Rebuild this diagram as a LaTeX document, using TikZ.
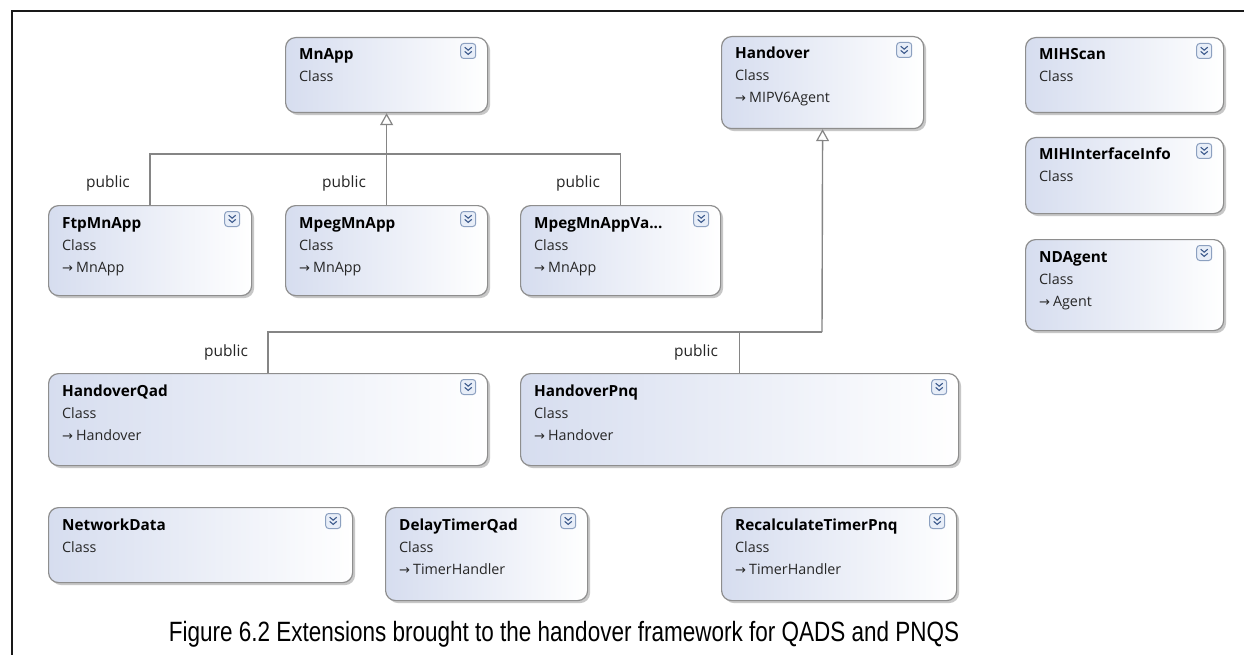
\documentclass[tikz,border=0pt]{standalone}
\usepackage{fontspec}
\setmainfont{Open Sans}
\newfontfamily\capfont{Liberation Sans}
\newfontfamily\symfont{DejaVu Sans}
\usetikzlibrary{arrows.meta,shadows}

\definecolor{boxblue}{HTML}{D6DDEF}
\definecolor{boxedge}{HTML}{8E8E8E}
\definecolor{linkgray}{HTML}{858585}
\definecolor{iconedge}{HTML}{8CA0C0}
\definecolor{iconfill}{HTML}{E8EEF8}
\definecolor{chevron}{HTML}{3C5A8C}

\tikzset{
  classbox/.style={draw=boxedge, line width=1.2pt, rounded corners=10pt,
    left color=boxblue, right color=white, anchor=north west, inner sep=0pt,
    drop shadow={shadow xshift=2.5pt, shadow yshift=-2.5pt, fill=black!40, opacity=.55}},
  ctitle/.style={anchor=base west, inner sep=0pt, font=\fontsize{15.3}{18}\selectfont\bfseries, text=black},
  ckind/.style={anchor=base west, inner sep=0pt, font=\fontsize{14.3}{16}\selectfont, text=black!85},
  cbase/.style={anchor=base west, inner sep=0pt, font=\fontsize{14.3}{16}\selectfont, text=black!85},
  collapse/.style={draw=iconedge, fill=iconfill, rounded corners=3pt, line width=1pt,
    minimum width=15pt, minimum height=15pt, inner sep=0pt},
  chev/.style={draw=chevron, line width=1.1pt},
  conn/.style={draw=linkgray, line width=1.4pt},
  inh/.style={conn, -{Triangle[open, length=12pt, width=13pt, line width=1.2pt]}},
  access/.style={inner sep=0pt, font=\fontsize{15.5}{18}\selectfont, text=black!85},
  caption/.style={inner sep=0pt, anchor=base, font=\capfont\fontsize{22.5}{26}\selectfont},
}

% one class shape: name, x, y, width, height, title, base class (may be empty)
\newcommand\umlclass[7]{%
  \node[classbox, minimum width=#4, minimum height=#5] (#1) at (#2,#3) {};
  \node[ctitle] (#1-title) at ([shift={(14,23)}]#1.north west) {#6};
  \node[ckind] (#1-kind) at ([shift={(14,45)}]#1.north west) {Class};
  \if\relax\detokenize{#7}\relax\else
    \node[cbase] (#1-base) at ([shift={(14,67)}]#1.north west)
      {{\symfont\fontsize{13}{14}\selectfont →}\hspace{3pt}#7};
  \fi
  \node[collapse] (#1-icon) at ([shift={(-20,14)}]#1.north east) {};
  \draw[chev] ([shift={(-3.5,-3.8)}]#1-icon.center) -- ([shift={(0,-0.8)}]#1-icon.center) -- ([shift={(3.5,-3.8)}]#1-icon.center);
  \draw[chev] ([shift={(-3.5,0.4)}]#1-icon.center) -- ([shift={(0,3.4)}]#1-icon.center) -- ([shift={(3.5,0.4)}]#1-icon.center);
}

\begin{document}
\begin{tikzpicture}[x=1pt, y=-1pt]
\useasboundingbox (0,0) rectangle (1244,655);
\fill[white] (0,0) rectangle (1244,655);

% page frame
\draw[line width=2pt, black!90] (11.5,660) -- (11.5,11.5) -- (1250,11.5);

% classes
\umlclass{mnapp}{285}{37}{202}{75}{MnApp}{}
\umlclass{handover}{721}{36}{202}{92}{Handover}{MIPV6Agent}
\umlclass{mihscan}{1025}{37}{198}{75}{MIHScan}{}
\umlclass{mihif}{1025}{137}{198}{76}{MIHInterfaceInfo}{}
\umlclass{ndagent}{1025}{239}{198}{91}{NDAgent}{Agent}
\umlclass{ftp}{48}{205}{203}{90}{FtpMnApp}{MnApp}
\umlclass{mpeg}{285}{205}{202}{90}{MpegMnApp}{MnApp}
\umlclass{mpegva}{520}{205}{200}{90}{MpegMnAppVa...}{MnApp}
\umlclass{hqad}{48}{373}{439}{92}{HandoverQad}{Handover}
\umlclass{hpnq}{520}{373}{438}{92}{HandoverPnq}{Handover}
\umlclass{netdata}{48}{507}{304}{75}{NetworkData}{}
\umlclass{delay}{385}{507}{202}{93}{DelayTimerQad}{TimerHandler}
\umlclass{recalc}{721}{507}{235}{93}{RecalculateTimerPnq}{TimerHandler}

% inheritance from MnApp
\coordinate (busA) at (386,154);
\draw[conn] (ftp.north) |- (busA) -| (mpegva.north);
\draw[inh] (mpeg.north) -- (mnapp.south);

% inheritance from Handover
\coordinate (busB) at (822,332);
\draw[conn] (hqad.north) |- (busB);
\draw[conn] (hpnq.north) -- (hpnq.north |- busB);
\draw[inh] (busB) -- (handover.south);

% access labels
\node[access] (accA1) at (108,183) {public};
\node[access] (accA2) at (344,183) {public};
\node[access] (accA3) at (578,183) {public};
\node[access] (accB1) at (226,352) {public};
\node[access] (accB2) at (696,352) {public};

% caption, set in a tall narrow face
\node[caption] (cap) at (564,641) {\scalebox{1}[1.24]{Figure 6.2 Extensions brought to the handover framework for QADS and PNQS}};
\end{tikzpicture}
\end{document}
